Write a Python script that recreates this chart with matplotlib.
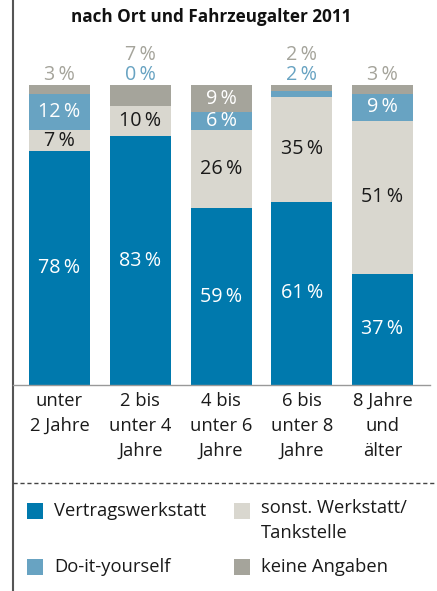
import matplotlib
matplotlib.use("Agg")
import matplotlib.pyplot as plt
from matplotlib.lines import Line2D
from matplotlib.patches import Rectangle

# Data
categories = ["unter\n2 Jahre", "2 bis\nunter 4\nJahre", "4 bis\nunter 6\nJahre",
              "6 bis\nunter 8\nJahre", "8 Jahre\nund\nälter"]
vertragswerkstatt = [78, 83, 59, 61, 37]
sonst_werkstatt = [7, 10, 26, 35, 51]
do_it_yourself = [12, 0, 6, 2, 9]
keine_angaben = [3, 7, 9, 2, 3]

series_names = ["Vertragswerkstatt", "sonst. Werkstatt/\nTankstelle",
                "Do-it-yourself", "keine Angaben"]
series_values = [vertragswerkstatt, sonst_werkstatt, do_it_yourself, keine_angaben]
colors = ["#0079ad", "#d9d7cf", "#68a3c2", "#a5a49b"]
inner_text = ["white", "#1a1a1a", "white", "white"]
outer_text = [None, None, "#68a3c2", "#a5a49b"]
inside_min = [6, 6, 6, 8]

title = "nach Ort und Fahrzeugalter 2011"

W, H = 437, 591
plt.rcParams["font.family"] = ["Open Sans", "DejaVu Sans"]
fig = plt.figure(figsize=(W / 100, H / 100), dpi=100)


def fx(px):
    return px / W


def fy(py):
    return 1 - py / H


# plot area
ax_left, ax_right, ax_top, ax_bottom = 13, 430, 85, 385
ax = fig.add_axes([fx(ax_left), fy(ax_bottom), fx(ax_right - ax_left),
                   (ax_bottom - ax_top) / H])
spacing = 80.75
first_center = 46.5
ax.set_xlim(-first_center / spacing, (ax_right - ax_left - first_center) / spacing)
ax.set_ylim(0, 100)
ax.axis("off")

bar_w = 61 / spacing
x = list(range(len(categories)))
fs = 13.2
nfs = 14.2
pct = "\u2009%"

bottoms = [0] * len(categories)
for vals, col in zip(series_values, colors):
    ax.bar(x, vals, width=bar_w, bottom=bottoms, color=col, linewidth=0)
    bottoms = [b + v for b, v in zip(bottoms, vals)]

# value labels
for i in x:
    b = 0
    outside = []
    for s, vals in enumerate(series_values):
        v = vals[i]
        if v >= inside_min[s]:
            ax.text(i, b + v / 2, f"{v}{pct}", ha="center", va="center",
                    fontsize=nfs, color=inner_text[s])
        else:
            outside.append((s, v))
        b += v
    # small shares are written above the bar
    ys = [3.4, 10.0]
    for k, (s, v) in enumerate(outside):
        ax.text(i, 100 + ys[k], f"{v}{pct}", ha="center", va="center",
                fontsize=nfs, color=outer_text[s], clip_on=False)

# category labels
for i, c in enumerate(categories):
    xp = ax_left + first_center + i * spacing
    fig.text(fx(xp), fy(392), c, ha="center", va="top", fontsize=fs,
             color="#1a1a1a", linespacing=1.5)

# title
fig.text(fx(211), fy(17), title, ha="center", va="center", fontsize=12.3,
         fontweight="bold", color="#111111")

# frame lines
fig.add_artist(Line2D([fx(13), fx(13)], [0, 1], color="#555555", lw=1.5))
fig.add_artist(Line2D([fx(13), fx(430)], [fy(385), fy(385)], color="#999999", lw=1))
fig.add_artist(Line2D([fx(13), fx(437)], [fy(483), fy(483)], color="#444444",
                      lw=1, linestyle=(0, (3, 2))))

# legend
legend_pos = [(27, 511), (234, 511), (27, 567), (234, 567)]
for (lx, ly), s in zip(legend_pos, range(len(series_names))):
    fig.add_artist(Rectangle((fx(lx), fy(ly + 8)), fx(16), 16 / H,
                             color=colors[s], lw=0))
    if "\n" in series_names[s]:
        fig.text(fx(lx + 27), fy(ly - 12), series_names[s], ha="left", va="top",
                 fontsize=fs, color="#1a1a1a", linespacing=1.5)
    else:
        fig.text(fx(lx + 27), fy(ly), series_names[s], ha="left", va="center",
                 fontsize=fs, color="#1a1a1a")

fig.savefig("out.png", dpi=100)
